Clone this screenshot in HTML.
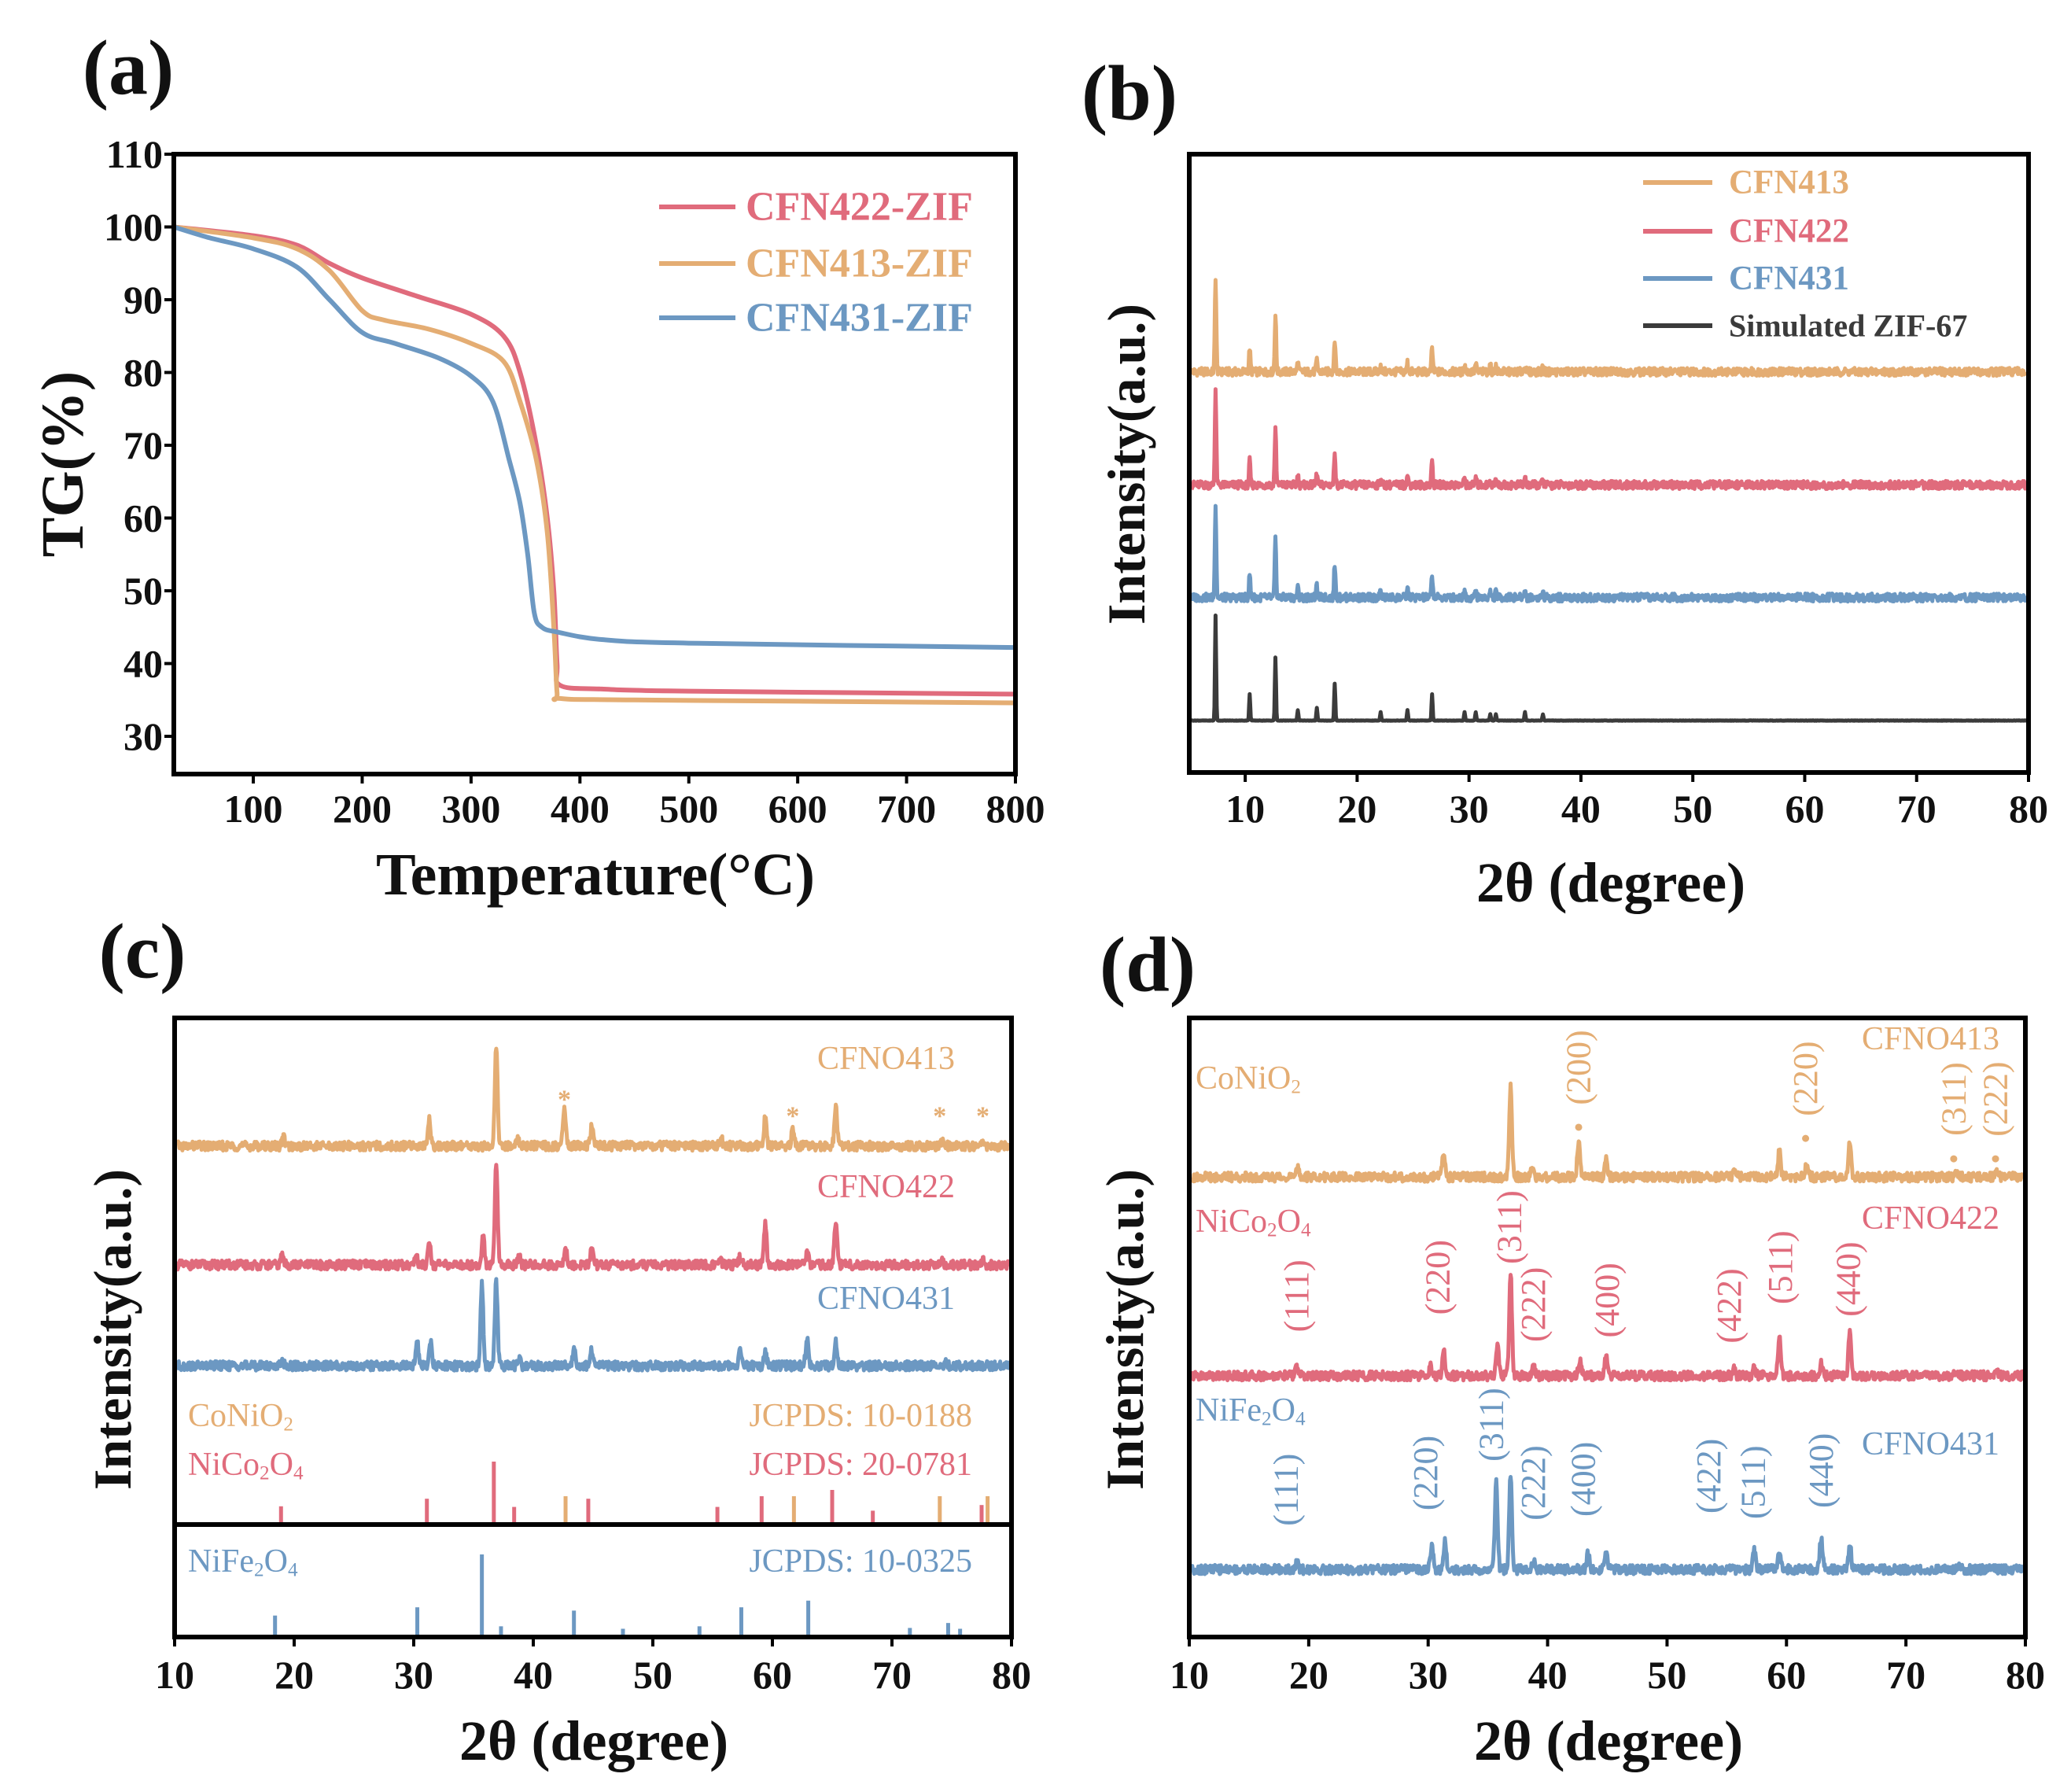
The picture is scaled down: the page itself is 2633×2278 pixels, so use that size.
<!DOCTYPE html>
<html><head><meta charset="utf-8">
<style>
html,body{margin:0;padding:0;background:#fff;}
svg{display:block;font-family:"Liberation Serif",serif;font-weight:bold;}
</style></head>
<body>
<svg id="fig" xmlns="http://www.w3.org/2000/svg" width="2633" height="2278" viewBox="0 0 2633 2278"></svg>
<script>
// ---------- DATA ----------
// Panel (a) TG curves
const tgTemp422 = [27,100,140,170,200,250,300,330,345,360,370,376,379,382,420,500,800];
const tgVal422  = [100,98.8,97.5,95,93,90.5,88,85,80,70,60,50,40,37,36.5,36.2,35.8];
const tgTemp413 = [27,100,140,170,200,220,260,300,330,345,360,370,376,379,382,450,800];
const tgVal413  = [100,98.5,97,94,88.5,87.2,86,84,81.5,76,68,58,45,36,35.2,35,34.6];
const tgTemp431 = [27,60,100,140,170,200,230,270,300,320,335,345,352,358,365,380,420,500,800];
const tgVal431  = [100,98.5,97,94.5,90,85.5,84,82,79.5,76,68,62,55,47,45,44.3,43.3,42.8,42.2];
const tgXTicks = [100,200,300,400,500,600,700,800];
const tgYTicks = [30,40,50,60,70,80,90,100,110];

// Panel (b) XRD of ZIFs: peak positions & relative heights
const zifPeakPos = [7.35,10.4,12.7,14.7,16.4,18.0,22.1,24.5,26.7,29.6,30.6,31.9,32.4,35.0,36.6];
const zifPeakRel = [1,0.25,0.6,0.1,0.12,0.35,0.08,0.1,0.25,0.08,0.08,0.06,0.06,0.08,0.06];
const zifBaseline = [64.8,46.5,28.3,8.4];      // CFN413, CFN422, CFN431, simulated
const zifMainHeight = [15.4,15.5,15.4,17.0];
const zifNames = ["CFN413","CFN422","CFN431","Simulated ZIF-67"];
const xrdXTicksB = [10,20,30,40,50,60,70,80];

// Panels (c)/(d) XRD of oxides
const p413Pos = [19.1,31.3,36.9,38.7,42.6,44.9,55.7,59.4,61.7,65.3,74.2,77.6];
const p413Rel = [0.1,0.28,1,0.08,0.4,0.2,0.08,0.3,0.15,0.4,0.05,0.05];
const p422Pos = [19.0,30.2,31.3,35.8,36.9,38.8,42.7,44.9,55.6,57.3,59.4,62.9,65.3,74.2,77.6];
const p422Rel = [0.1,0.1,0.25,0.3,1,0.1,0.15,0.2,0.07,0.08,0.4,0.12,0.45,0.05,0.05];
const p431Pos = [19.0,30.3,31.4,35.7,36.9,38.8,43.4,44.9,57.3,59.4,62.9,65.3,74.5];
const p431Rel = [0.08,0.28,0.3,1,1.05,0.1,0.2,0.2,0.2,0.2,0.35,0.3,0.05];
const cBaseline = [79.3,60.1,43.8];
const cMainHeight = [15.9,16.3,13.1];
const dBaseline = [74.3,42.2,10.9];
const dMainHeight = [14.5,16.6,14.6];
const xrdXTicks = [10,20,30,40,50,60,70,80];

// Reference sticks (relative intensity %)
const nicoPos = [18.9,31.1,36.7,38.4,44.6,55.4,59.1,65.0,68.4,77.5];
const nicoRel = [29,41,100,28,41,28,45,55,22,31];
const conioPos = [42.7,61.8,74.0,78.0];
const conioRel = [45,45,45,45];
const nifePos = [18.4,30.3,35.7,37.3,43.4,47.5,53.9,57.4,63.0,71.5,74.7,75.7];
const nifeRel = [26,36,100,13,32,10,13,36,44,11,17,10];

// Panel (d) hkl labels: 2theta, label centre (intensity units)
const hkl413Pos = [42.6,61.6,74.0,77.5];
const hkl413Lbl = ["(200)","(220)","(311)","(222)"];
const hkl413Y = [92.0,90.2,86.9,86.9];
const hkl422Pos = [19.0,30.8,36.8,38.8,45.0,55.2,59.5,65.2];
const hkl422Lbl = ["(111)","(220)","(311)","(222)","(400)","(422)","(511)","(440)"];
const hkl422Y = [55.1,58.1,66.2,53.7,54.4,53.5,59.7,57.8];
const hkl431Pos = [18.1,29.8,35.3,38.8,43.0,53.5,57.2,62.9];
const hkl431Lbl = ["(111)","(220)","(311)","(222)","(400)","(422)","(511)","(440)"];
const hkl431Y = [23.8,26.5,34.3,24.9,25.5,26.0,25.0,26.9];

// ---------- DRAWING ----------
const NS = "http://www.w3.org/2000/svg";
const svg = document.getElementById("fig");
const C = {red:"#e06b7c", org:"#e4ad73", blue:"#6c98c2", blk:"#3b3b3b"};
function mk(tag, attrs, parent){
  const e = document.createElementNS(NS, tag);
  for (const k in attrs) e.setAttribute(k, attrs[k]);
  (parent||svg).appendChild(e);
  return e;
}
function txt(s, x, y, size, fill, anchor, parent, rot){
  const t = mk("text", {x:x, y:y, "font-size":size, fill:fill||"#111", "text-anchor":anchor||"middle", "dominant-baseline":"central"}, parent);
  if (rot) t.setAttribute("transform", "rotate("+rot+" "+x+" "+y+")");
  t.textContent = s;
  return t;
}
function lin(d0,d1,p0,p1){ return v => p0 + (v-d0)*(p1-p0)/(d1-d0); }
function noise(i, k){ // deterministic jitter for trace texture
  const a = Math.sin(i*12.9898 + k*78.233)*43758.5453;
  return (a - Math.floor(a)) - 0.5;
}
function frame(g, L, T, R, B, name){
  const r = mk("rect", {x:L, y:T, width:R-L, height:B-T, fill:"none", stroke:"#000", "stroke-width":6}, g);
  
  
}
function xTicks(g, ticks, xs, B, labY){
  ticks.forEach(v=>{
    const x = xs(v);
    const l = mk("line", {x1:x, y1:B, x2:x, y2:B+12, stroke:"#000", "stroke-width":4}, g);
    
    
    const t = txt(String(v), x, labY, 50, "#111", "middle", g);
    
    
  });
}
function xrdPath(g, pos, rel, base, h, xs, ys, x0, x1, w, color, seed, name, amp){
  let d = "";
  let i = 0;
  for (let x = x0; x <= x1 + 1e-9; x += 0.05, i++){
    let v = base;
    for (let k=0;k<pos.length;k++){ const z=(x-pos[k])/w; v += h*rel[k]*Math.exp(-z*z); }
    v += amp*noise(i, seed);
    d += (i? "L":"M") + xs(x).toFixed(1) + "," + ys(v).toFixed(1);
  }
  const p = mk("path", {d:d, fill:"none", stroke:color, "stroke-width":5, "stroke-linejoin":"round"}, g);
  
  
}
function smoothPath(pts){
  let d = "M"+pts[0][0].toFixed(1)+","+pts[0][1].toFixed(1);
  for (let i=0;i<pts.length-1;i++){
    const p0 = pts[Math.max(0,i-1)], p1 = pts[i], p2 = pts[i+1], p3 = pts[Math.min(pts.length-1,i+2)];
    const c1x = p1[0]+(p2[0]-p0[0])/6, c1y = p1[1]+(p2[1]-p0[1])/6;
    const c2x = p2[0]-(p3[0]-p1[0])/6, c2y = p2[1]-(p3[1]-p1[1])/6;
    d += "C"+c1x.toFixed(1)+","+c1y.toFixed(1)+" "+c2x.toFixed(1)+","+c2y.toFixed(1)+" "+p2[0].toFixed(1)+","+p2[1].toFixed(1);
  }
  return d;
}
function subText(g, parts, x, y, size, fill, anchor, name){
  const t = mk("text", {x:x, y:y, "font-size":size, fill:fill, "text-anchor":anchor||"start", "dominant-baseline":"central", "font-weight":"normal"}, g);
  parts.forEach(p=>{
    const s = mk("tspan", {}, t);
    if (p[1]) { s.setAttribute("font-size", size*0.6); s.setAttribute("dy", size*0.25); }
    else if (p[2]) { s.setAttribute("dy", -size*0.25); }
    s.textContent = p[0];
  });
  
  
  return t;
}

// ===== Panel (a) =====
(function(){
  const g = mk("g", {});
  
  
  const L=221,R=1291,T=196,B=984;
  const xs = lin(27,800,L,R), ys = lin(110,30,T,936);
  const series = [[tgTemp422,tgVal422,C.red,"tg-line-cfn422"],[tgTemp413,tgVal413,C.org,"tg-line-cfn413"],[tgTemp431,tgVal431,C.blue,"tg-line-cfn431"]];
  series.forEach(s=>{
    const pts = s[0].map((t,i)=>[xs(t),ys(s[1][i])]);
    const p = mk("path",{d:smoothPath(pts),fill:"none",stroke:s[2],"stroke-width":6,"stroke-linejoin":"round"},g);
    
    
  });
  frame(g,L,T,R,B,"panel-a-frame");
  xTicks(g,tgXTicks,xs,B,1028);
  tgYTicks.forEach(v=>{
    const y = ys(v);
    const l = mk("line",{x1:L-12,y1:y,x2:L,y2:y,stroke:"#000","stroke-width":4},g);
    
    
    const t = txt(String(v), 207, y, 50, "#111", "end", g);
    
    
  });
  const lg = [["CFN422-ZIF",C.red,263],["CFN413-ZIF",C.org,335],["CFN431-ZIF",C.blue,404]];
  lg.forEach(e=>{
    const l = mk("line",{x1:838,y1:e[2],x2:935,y2:e[2],stroke:e[1],"stroke-width":6},g);
    
    
    const t = txt(e[0],948,e[2],52,e[1],"start",g);
    
    
  });
  const xt = txt("Temperature(°C)",757,1112,76,"#111","middle",g);
  
  
  const yt = txt("TG(%)",80,590,76,"#111","middle",g,-90);
  
  
  const pl = txt("(a)",163,86,100,"#111","middle",g);
  
  
})();

// ===== Panel (b) =====
(function(){
  const g = mk("g", {});
  
  
  const L=1512,R=2579,T=196,B=982;
  const xs = lin(5,80,L,R), ys = lin(0,100,B,T);
  const cols = [C.org,C.red,C.blue,C.blk];
  const nm = ["xrd-trace-cfn413","xrd-trace-cfn422","xrd-trace-cfn431","xrd-trace-simulated"];
  for (let s=0;s<4;s++){
    xrdPath(g, zifPeakPos, zifPeakRel, zifBaseline[s], zifMainHeight[s], xs, ys, 5.2, 79.8, s===3?0.07:0.09, cols[s], s+1, nm[s], s===3?0.05:1.3);
  }
  frame(g,L,T,R,B,"panel-b-frame");
  xTicks(g,xrdXTicksB,xs,B,1028);
  const lyy = [232,294,354,414];
  zifNames.forEach((n,i)=>{
    const l = mk("line",{x1:2089,y1:lyy[i],x2:2177,y2:lyy[i],stroke:cols[i],"stroke-width":6},g);
    
    
    const t = txt(n,2198,lyy[i],i===3?40:43,cols[i],"start",g);
    
    
  });
  const xt = txt("2θ (degree)",2048,1122,72,"#111","middle",g);
  
  
  const yt = txt("Intensity(a.u.)",1432,590,68,"#111","middle",g,-90);
  
  
  const pl = txt("(b)",1436,118,100,"#111","middle",g);
  
  
})();

// ===== Panel (c) =====
(function(){
  const g = mk("g", {});
  
  
  const L=222,R=1286,T=1294,B=2081,DIV=1938;
  const xs = lin(10,80,L,R), ys = lin(0,100,B,T);
  const P = [[p413Pos,p413Rel,C.org,"xrd-trace-cfno413"],[p422Pos,p422Rel,C.red,"xrd-trace-cfno422"],[p431Pos,p431Rel,C.blue,"xrd-trace-cfno431"]];
  P.forEach((p,i)=>xrdPath(g,p[0],p[1],cBaseline[i],cMainHeight[i],xs,ys,10.2,79.8,0.16,p[2],10+i,p[3],1.5));
  const upScale = 80/100, loScale = 105/100;
  function sticks(pos, rel, base, sc, color, name){
    pos.forEach((p,i)=>{
      const l = mk("line",{x1:xs(p),y1:base,x2:xs(p),y2:base-rel[i]*sc,stroke:color,"stroke-width":5},g);
      
      
    });
  }
  sticks(nicoPos,nicoRel,DIV,upScale,C.red,"ref-stick-nico2o4");
  sticks(conioPos,conioRel,DIV,upScale,C.org,"ref-stick-conio2");
  sticks(nifePos,nifeRel,B,loScale,C.blue,"ref-stick-nife2o4");
  frame(g,L,T,R,B,"panel-c-frame");
  const dv = mk("line",{x1:L,y1:DIV,x2:R,y2:DIV,stroke:"#000","stroke-width":6},g);
  
  
  xTicks(g,xrdXTicks,xs,B,2129);
  const starPos = [42.6,61.7,74.0,77.6], starY=[1390,1411,1411,1411];
  starPos.forEach((p,i)=>{
    const s = txt("*",xs(p),starY[i]+8,34,C.org,"middle",g);
    
    
  });
  [["CFNO413",C.org,1346],["CFNO422",C.red,1509],["CFNO431",C.blue,1651]].forEach(e=>{
    const t = txt(e[0],1214,e[2],42,e[1],"end",g);
    t.setAttribute("font-weight","normal");
    
    
  });
  subText(g,[["CoNiO"],["2",1]],239,1800,42,C.org,"start","label-conio2");
  subText(g,[["NiCo"],["2",1],["O",0,1],["4",1]],239,1862,42,C.red,"start","label-nico2o4");
  subText(g,[["NiFe"],["2",1],["O",0,1],["4",1]],239,1985,42,C.blue,"start","label-nife2o4");
  [["JCPDS: 10-0188",C.org,1800],["JCPDS: 20-0781",C.red,1862],["JCPDS: 10-0325",C.blue,1985]].forEach(e=>{
    const t = txt(e[0],1236,e[2],42,e[1],"end",g);
    t.setAttribute("font-weight","normal");
    
    
  });
  const xt = txt("2θ (degree)",755,2213,72,"#111","middle",g);
  
  
  const yt = txt("Intensity(a.u.)",143,1690,68,"#111","middle",g,-90);
  
  
  const pl = txt("(c)",181,1209,100,"#111","middle",g);
  
  
})();

// ===== Panel (d) =====
(function(){
  const g = mk("g", {});
  
  
  const L=1512,R=2575,T=1294,B=2081;
  const xs = lin(10,80,L,R), ys = lin(0,100,B,T);
  const P = [[p413Pos,p413Rel,C.org,"xrd-trace-cfno413"],[p422Pos,p422Rel,C.red,"xrd-trace-cfno422"],[p431Pos,p431Rel,C.blue,"xrd-trace-cfno431"]];
  P.forEach((p,i)=>xrdPath(g,p[0],p[1],dBaseline[i],dMainHeight[i],xs,ys,10.2,79.8,0.16,p[2],20+i,p[3],1.5));
  frame(g,L,T,R,B,"panel-d-frame");
  xTicks(g,xrdXTicks,xs,B,2129);
  function hkl(pos, lbl, yv, color, dots){
    pos.forEach((p,i)=>{
      const t = txt(lbl[i],xs(p),ys(yv[i]),44,color,"middle",g,-90);
      t.setAttribute("font-weight","normal");
      
      
      if (dots){
        const c = mk("circle",{cx:xs(p),cy:ys(yv[i])+76,r:4.5,fill:color},g);
        
        
      }
    });
  }
  hkl(hkl413Pos,hkl413Lbl,hkl413Y,C.org,true);
  hkl(hkl422Pos,hkl422Lbl,hkl422Y,C.red,false);
  hkl(hkl431Pos,hkl431Lbl,hkl431Y,C.blue,false);
  subText(g,[["CoNiO"],["2",1]],1520,1371,42,C.org,"start","label-conio2");
  subText(g,[["NiCo"],["2",1],["O",0,1],["4",1]],1520,1553,42,C.red,"start","label-nico2o4");
  subText(g,[["NiFe"],["2",1],["O",0,1],["4",1]],1520,1793,42,C.blue,"start","label-nife2o4");
  [["CFNO413",C.org,1321],["CFNO422",C.red,1549],["CFNO431",C.blue,1836]].forEach(e=>{
    const t = txt(e[0],2542,e[2],42,e[1],"end",g);
    t.setAttribute("font-weight","normal");
    
    
  });
  const xt = txt("2θ (degree)",2045,2213,72,"#111","middle",g);
  
  
  const yt = txt("Intensity(a.u.)",1430,1690,68,"#111","middle",g,-90);
  
  
  const pl = txt("(d)",1459,1226,100,"#111","middle",g);
  
  
})();
</script>
</body></html>
